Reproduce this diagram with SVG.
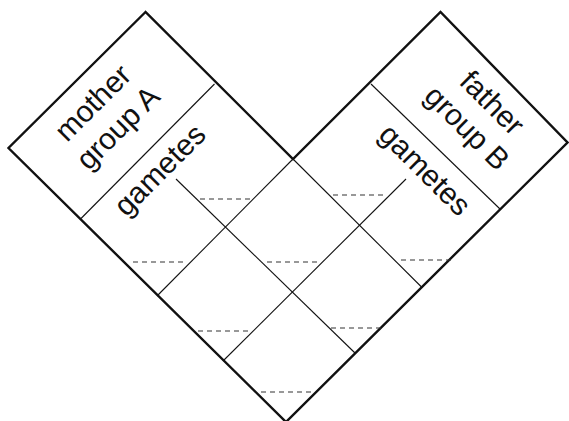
<svg xmlns="http://www.w3.org/2000/svg" width="569" height="421" viewBox="0 0 569 421">
<style>
.outline{fill:none;stroke:#111;stroke-width:2.4;stroke-linejoin:miter}
.grid{fill:none;stroke:#111;stroke-width:1.1}
.dash{fill:none;stroke:#333;stroke-width:1.2;stroke-dasharray:5 4}
.lbl{font-family:"Liberation Sans",Arial,sans-serif;font-size:30px;fill:#111;text-anchor:middle}
</style>
<rect width="569" height="421" fill="#fff"/>
<g id="outline">
<path class="outline" d="M145.5,12 L8.5,148 L286,422 L567.5,142.5 L440.5,12 L293,159 Z"/>
</g>
<g id="connectors">
<line class="grid" x1="214.5" y1="84" x2="81" y2="218.5"/>
<line class="grid" x1="371" y1="84" x2="500" y2="209"/>
<line class="grid" x1="293" y1="159" x2="157" y2="296"/>
<line class="grid" x1="293" y1="159" x2="422" y2="287.5"/>
<line class="grid" x1="176" y1="179" x2="355" y2="353"/>
<line class="grid" x1="406" y1="179" x2="223" y2="361"/>
</g>
<g id="dashes">
<line class="dash" x1="200" y1="199" x2="250" y2="199"/>
<line class="dash" x1="333" y1="195" x2="383" y2="195"/>
<line class="dash" x1="133" y1="262" x2="183" y2="262"/>
<line class="dash" x1="267" y1="262" x2="317" y2="262"/>
<line class="dash" x1="401" y1="260" x2="451" y2="260"/>
<line class="dash" x1="198" y1="331" x2="248" y2="331"/>
<line class="dash" x1="331" y1="328" x2="381" y2="328"/>
<line class="dash" x1="261" y1="392" x2="311" y2="392"/>
</g>
<g id="mother">
<text class="lbl" transform="translate(100,110) rotate(-45)">mother</text>
<text class="lbl" transform="translate(125,135) rotate(-45)">group A</text>
</g>
<g id="mother-gametes">
<text class="lbl" transform="translate(167,177) rotate(-45)">gametes</text>
</g>
<g id="father">
<text class="lbl" transform="translate(485,110) rotate(45)">father</text>
<text class="lbl" transform="translate(460,135) rotate(45)">group B</text>
</g>
<g id="father-gametes">
<text class="lbl" transform="translate(418,177) rotate(45)">gametes</text>
</g>
</svg>
